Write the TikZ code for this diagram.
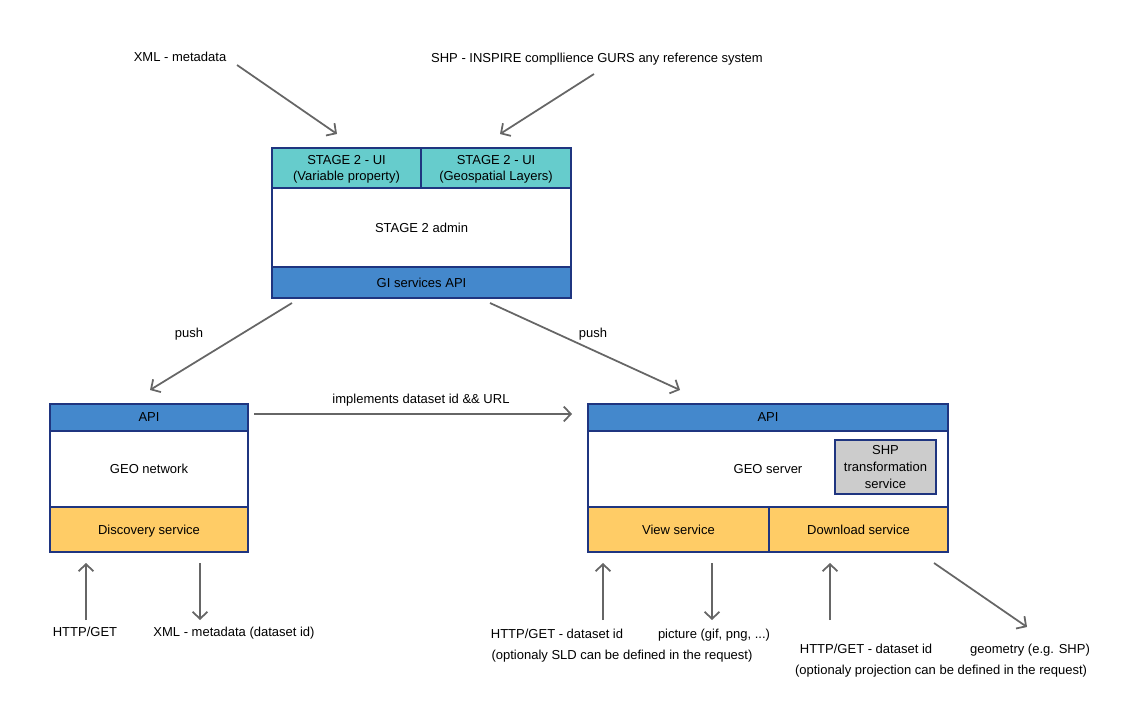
\documentclass[tikz,border=0pt]{standalone}
\usepackage{fontspec}
\setmainfont{Liberation Sans}
\usetikzlibrary{arrows.meta}
\definecolor{navy}{HTML}{1F3580}
\definecolor{teal2}{HTML}{66CCCC}
\definecolor{apiblue}{HTML}{4488CC}
\definecolor{svcorange}{HTML}{FFCC66}
\definecolor{shpgray}{HTML}{CCCCCC}
\definecolor{arrgray}{HTML}{666666}
\begin{document}
\begin{tikzpicture}[x=0.02cm, y=-0.02cm, font=\fontsize{7.4}{9.6}\selectfont,
    cell/.style={draw=navy, line width=1.1pt, inner sep=0pt, align=center, text depth=0pt},
    lbl/.style={inner sep=0pt, align=center, text depth=0pt},
    flow/.style={draw=arrgray, line width=1pt, -{Straight Barb[length=4pt, width=8.5pt]}}]
  \useasboundingbox (0,0) rectangle (1124,713);
  % STAGE 2 block
  \node[cell, fill=white, minimum width=5.98cm, minimum height=1.58cm] (admin) at (421.5,227.5) {STAGE 2 admin};
  \node[cell, fill=teal2, minimum width=2.98cm, minimum height=0.8cm] (uivar) at (346.5,168) {STAGE 2 - UI\\(Variable property)};
  \node[cell, fill=teal2, minimum width=3cm, minimum height=0.8cm] (uigeo) at (496,168) {STAGE 2 - UI\\(Geospatial Layers)};
  \node[cell, fill=apiblue, minimum width=5.98cm, minimum height=0.62cm] (giapi) at (421.5,282.5) {GI services API};
  % GEO network block
  \node[cell, fill=white, minimum width=3.96cm, minimum height=1.52cm] (net) at (149,469) {GEO network};
  \node[cell, fill=apiblue, minimum width=3.96cm, minimum height=0.54cm] (netapi) at (149,417.5) {API};
  \node[cell, fill=svcorange, minimum width=3.96cm, minimum height=0.9cm] (disc) at (149,529.5) {Discovery service};
  % GEO server block
  \node[cell, fill=white, minimum width=7.2cm, minimum height=1.52cm] (srv) at (768,469) {GEO server};
  \node[cell, fill=apiblue, minimum width=7.2cm, minimum height=0.54cm] (srvapi) at (768,417.5) {API};
  \node[cell, fill=svcorange, minimum width=3.62cm, minimum height=0.9cm] (view) at (678.5,529.5) {View service};
  \node[cell, fill=svcorange, minimum width=3.58cm, minimum height=0.9cm] (down) at (858.5,529.5) {Download service};
  \node[cell, fill=shpgray, minimum width=2.02cm, minimum height=1.08cm] (shp) at (885.5,467) {SHP\\transformation\\service};
  % inputs
  \node[lbl] (xml) at (180,57) {XML - metadata};
  \node[lbl] (shpin) at (597,58) {SHP - INSPIRE compllience GURS any reference system};
  \coordinate (xmlA) at (237,65);   \coordinate (xmlB) at (337,134);
  \coordinate (shpA) at (594,74);   \coordinate (shpB) at (500,134);
  \draw[flow] (xmlA) -- (xmlB);
  \draw[flow] (shpA) -- (shpB);
  % push
  \coordinate (pushLA) at (292,303); \coordinate (pushLB) at (150,390);
  \coordinate (pushRA) at (490,303); \coordinate (pushRB) at (680,390);
  \draw[flow] (pushLA) -- (pushLB);
  \draw[flow] (pushRA) -- (pushRB);
  \node[lbl] (pushL) at (189,333) {push};
  \node[lbl] (pushR) at (593,333) {push};
  \coordinate (implA) at (254,414); \coordinate (implB) at (572,414);
  \draw[flow] (implA) -- (implB);
  \node[lbl] (impl) at (421,399) {implements dataset id \&\& URL};
  % requests (up) and responses (down)
  \foreach \n/\x/\a/\b in {reqnet/86/bot/top, resnet/200/top/bot, reqview/603/bot/top,
      resview/712/top/bot, reqdown/830/bot/top} {
    \coordinate (\n-top) at (\x,563);
    \coordinate (\n-bot) at (\x,620);
    \draw[flow] (\n-\a) -- (\n-\b);
  }
  \coordinate (geomA) at (934,563); \coordinate (geomB) at (1027,627);
  \draw[flow] (geomA) -- (geomB);
  \node[lbl] (httpnet) at (85,632) {HTTP/GET};
  \node[lbl] (xmlout) at (234,632) {XML - metadata (dataset id)};
  \node[lbl] (httpview) at (557,634) {HTTP/GET - dataset id};
  \node[lbl] (sld) at (622,655) {(optionaly SLD can be defined in the request)};
  \node[lbl] (pic) at (714,634) {picture (gif, png, ...)};
  \node[lbl] (httpdown) at (866,649) {HTTP/GET - dataset id};
  \node[lbl] (proj) at (941,670) {(optionaly projection can be defined in the request)};
  \node[lbl] (geom) at (1030,649) {geometry (e.g. SHP)};
\end{tikzpicture}
\end{document}
